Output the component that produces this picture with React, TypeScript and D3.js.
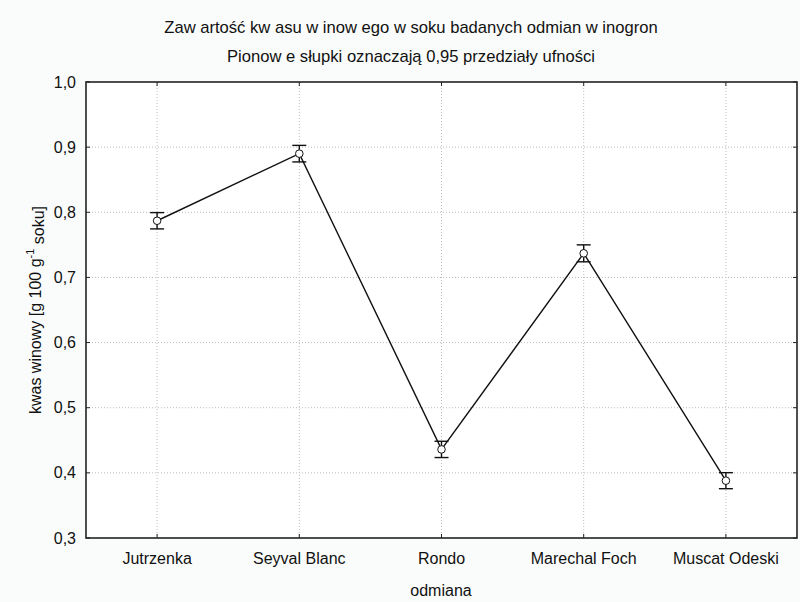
import React from "react";
import * as d3 from "d3";

const categories = ["Jutrzenka", "Seyval Blanc", "Rondo", "Marechal Foch", "Muscat Odeski"];
const means = [0.787, 0.89, 0.436, 0.737, 0.388];
const ciHalf = [0.0125, 0.0127, 0.0125, 0.013, 0.0123];
const yTicks = [0.3, 0.4, 0.5, 0.6, 0.7, 0.8, 0.9, 1.0];
const titleLines = [
  "Zaw artość kw asu w inow ego w  soku badanych odmian w inogron",
  "Pionow e słupki oznaczają 0,95 przedziały ufności",
];
const xTitle = "odmiana";

const W = 800;
const H = 602;
const L = 86;
const R = 797;
const T = 82;
const B = 538;
const FONT = "'Liberation Sans', Arial, sans-serif";
const FS = 16;
const TFS = 16.6;

export default function App() {
  const x = d3.scalePoint<string>().domain(categories).range([L, R]).padding(0.5);
  const y = d3.scaleLinear().domain([0.3, 1.0]).range([B, T]);
  const fmt = (v: number) => d3.format(".1f")(v).replace(".", ",");
  const data = categories.map((c, i) => ({ c, m: means[i], h: ciHalf[i] }));
  const line = d3
    .line<{ c: string; m: number }>()
    .x((d) => x(d.c) as number)
    .y((d) => y(d.m));
  const capW = 7;

  return (
    <svg
      width={W}
      height={H}
      style={{ position: "fixed", left: 0, top: 0, display: "block" }}
      fontFamily={FONT}
    >
      <rect x={0} y={0} width={W} height={H} fill="#fafcfb" />
      <rect x={L} y={T} width={R - L} height={B - T} fill="#ffffff" />
      {/* grid */}
      {yTicks.slice(1, -1).map((t) => (
        <line key={"gy" + t} x1={L} x2={R} y1={y(t)} y2={y(t)} stroke="#bdbdbd" strokeWidth={1} strokeDasharray="1,2" />
      ))}
      {categories.map((c) => (
        <line key={"gx" + c} x1={x(c)} x2={x(c)} y1={T} y2={B} stroke="#bdbdbd" strokeWidth={1} strokeDasharray="1,2" />
      ))}
      {/* ticks */}
      {yTicks.map((t) => (
        <g key={"ty" + t}>
          <line x1={L} x2={L + 4} y1={y(t)} y2={y(t)} stroke="#222" strokeWidth={1} />
          <line x1={R - 4} x2={R} y1={y(t)} y2={y(t)} stroke="#222" strokeWidth={1} />
          <text x={L - 10} y={y(t)} dy="0.35em" textAnchor="end" fontSize={FS} fill="#111">
            {fmt(t)}
          </text>
        </g>
      ))}
      {categories.map((c) => (
        <g key={"tx" + c}>
          <line x1={x(c)} x2={x(c)} y1={B} y2={B - 4} stroke="#222" strokeWidth={1} />
          <line x1={x(c)} x2={x(c)} y1={T} y2={T + 4} stroke="#222" strokeWidth={1} />
          <text x={x(c)} y={B + 20} dy="0.35em" textAnchor="middle" fontSize={FS} fill="#111">
            {c}
          </text>
        </g>
      ))}
      {/* frame */}
      <rect x={L} y={T} width={R - L} height={B - T} fill="none" stroke="#222" strokeWidth={1.6} />
      {/* line */}
      <path d={line(data) || ""} fill="none" stroke="#111" strokeWidth={1.4} />
      {/* error bars */}
      {data.map((d) => {
        const cx = x(d.c) as number;
        return (
          <g key={"eb" + d.c} stroke="#111" strokeWidth={1.4}>
            <line x1={cx} x2={cx} y1={y(d.m + d.h)} y2={y(d.m - d.h)} />
            <line x1={cx - capW} x2={cx + capW} y1={y(d.m + d.h)} y2={y(d.m + d.h)} />
            <line x1={cx - capW} x2={cx + capW} y1={y(d.m - d.h)} y2={y(d.m - d.h)} />
            <circle cx={cx} cy={y(d.m)} r={3.8} fill="#fff" strokeWidth={1} />
          </g>
        );
      })}
      {/* titles */}
      <text x={411} y={27} dy="0.35em" textAnchor="middle" fontSize={TFS} fill="#111">
        {titleLines[0]}
      </text>
      <text x={411} y={56} dy="0.35em" textAnchor="middle" fontSize={TFS} fill="#111">
        {titleLines[1]}
      </text>
      <text x={441} y={590} dy="0.35em" textAnchor="middle" fontSize={FS} fill="#111">
        {xTitle}
      </text>
      <text
        transform={`translate(35,${(T + B) / 2}) rotate(-90)`}
        textAnchor="middle"
        dy="0.35em"
        fontSize={FS}
        fill="#111"
      >
        kwas winowy [g 100 g
        <tspan fontSize={11} dy="-0.6em">-1</tspan>
        <tspan dy="0.6em"> soku]</tspan>
      </text>
    </svg>
  );
}
